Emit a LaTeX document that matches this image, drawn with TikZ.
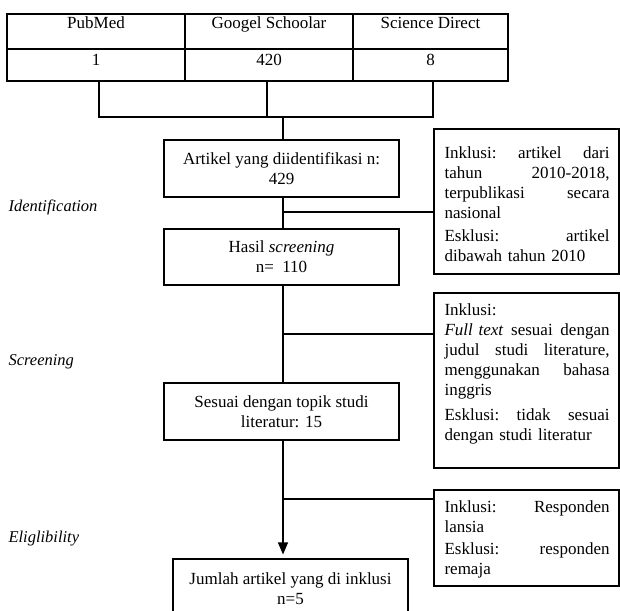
\documentclass[tikz,border=0pt]{standalone}
\usepackage{fontspec}
\setmainfont{Liberation Serif}
\usetikzlibrary{arrows.meta}
\newcommand{\jl}[1]{\makebox[165pt][l]{#1}}
\begin{document}
\begin{tikzpicture}[x=1pt,y=-1pt,line width=1.1pt,
  every node/.style={font=\fontsize{17}{20}\selectfont},
  cell/.style={draw,inner sep=0pt},
  celltext/.style={anchor=base,inner sep=0pt},
  box/.style={draw,minimum width=235pt,inner sep=0pt,align=center},
  incbox/.style={draw,minimum width=185pt,inner sep=0pt},
  inctext/.style={anchor=north west,inner sep=0pt,align=left,text width=165pt},
  stage/.style={anchor=base west,inner sep=0pt,font=\fontsize{16.5}{19}\selectfont\itshape},
  link/.style={draw,line width=1.1pt},
  arrowlink/.style={link,-{Triangle[length=12pt,width=10pt]},shorten >=4pt}]
\useasboundingbox (0,0) rectangle (620,610);
\clip (0,0) rectangle (620,610);
% table
\node[cell,minimum width=178pt,minimum height=35pt] (c11) at (96,31.5) {};
\node[cell,minimum width=168pt,minimum height=35pt] (c12) at (269,31.5) {};
\node[cell,minimum width=155pt,minimum height=35pt] (c13) at (430.5,31.5) {};
\node[cell,minimum width=178pt,minimum height=32pt] (c21) at (96,65) {};
\node[cell,minimum width=168pt,minimum height=32pt] (c22) at (269,65) {};
\node[cell,minimum width=155pt,minimum height=32pt] (c23) at (430.5,65) {};
\node[celltext] (t11) at (96,29) {PubMed};
\node[celltext] (t12) at (269,29) {Googel Schoolar};
\node[celltext] (t13) at (430.5,29) {Science Direct};
\node[celltext] (t21) at (96,65) {1};
\node[celltext] (t22) at (269,65) {420};
\node[celltext] (t23) at (430.5,65) {8};
% main boxes
\node[box,minimum height=57pt] (b1) at (281.5,168.5) {Artikel yang diidentifikasi n:\\429};
\node[box,minimum height=56pt] (b2) at (281.5,257) {Hasil \textit{screening}\\n=\ \ 110};
\node[box,minimum height=57pt] (b3) at (281.5,411.5) {Sesuai dengan topik studi\\literatur: 15};
\node[box,minimum height=60pt] (b4) at (290.5,589) {Jumlah artikel yang di inklusi\\n=5};
% inclusion boxes
\node[incbox,minimum height=145pt] (i1) at (526.5,201.5) {};
\node[incbox,minimum height=175pt] (i2) at (526.5,380.5) {};
\node[incbox,minimum height=96pt] (i3) at (526.5,538) {};
\node[inctext] (x1) at (444,144) {\strut\jl{Inklusi:\hfill artikel\hfill dari}\\\jl{tahun\hfill 2010-2018,}\\\jl{terpublikasi\hfill secara}\\nasional\\[3pt]\jl{Esklusi:\hfill artikel}\\dibawah tahun 2010};
\node[inctext] (x2) at (444,301) {\strut Inklusi:\\\jl{\textit{Full text}\hfill sesuai\hfill dengan}\\\jl{judul\hfill studi\hfill literature,}\\\jl{menggunakan\hfill bahasa}\\inggris\\[5pt]\jl{Esklusi:\hfill tidak\hfill sesuai}\\dengan studi literatur};
\node[inctext] (x3) at (444,498) {\strut\jl{Inklusi:\hfill Responden}\\lansia\\[2pt]\jl{Esklusi:\hfill responden}\\remaja};
% stage labels
\node[stage] (s1) at (8,211) {Identification};
\node[stage] (s2) at (8,365) {Screening};
\node[stage] (s3) at (8,542) {Eliglibility};
% junctions
\coordinate (jl) at (99,117);
\coordinate (jm) at (267,117);
\coordinate (jr) at (433,117);
\coordinate (jc) at (283,117);
\coordinate (k1) at (283,212);
\coordinate (k2) at (283,334);
\coordinate (k3) at (283,499);
% connectors
\draw[link] (c21.south -| jl) -- (jl) -- (jr) -- (c23.south -| jr);
\draw[link] (c22.south -| jm) -- (jm);
\draw[link] (jc) -- (b1.north -| jc);
\draw[link] (b1.south -| k1) -- (b2.north -| k1);
\draw[link] (k1) -- (i1.west |- k1);
\draw[link] (b2.south -| k2) -- (b3.north -| k2);
\draw[link] (k2) -- (i2.west |- k2);
\draw[arrowlink] (b3.south -| k3) -- (b4.north -| k3);
\draw[link] (k3) -- (i3.west |- k3);
\end{tikzpicture}
\end{document}
